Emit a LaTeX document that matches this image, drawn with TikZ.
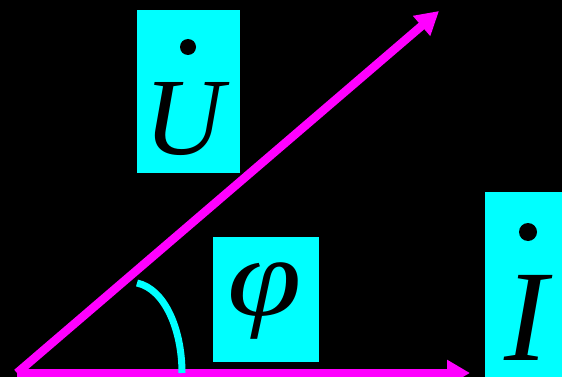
\documentclass[tikz,border=0pt]{standalone}
\usepackage{fontspec}
\setmainfont{Liberation Serif}
\usetikzlibrary{arrows.meta}
\definecolor{vecpink}{RGB}{255,0,255}
\definecolor{boxcyan}{RGB}{0,255,255}

\begin{document}
\begin{tikzpicture}[x=1pt, y=-1pt,
    vec/.style={draw=vecpink, line width=8.5pt, -{Triangle[length=23pt, width=25pt]}},
    box/.style={fill=boxcyan, inner sep=0pt, anchor=north west},
    big/.style={inner sep=0pt, font=\fontsize{#1}{#1}\selectfont\itshape}]
\fill[black] (0,0) rectangle (562,377);
\useasboundingbox (0,0) rectangle (562,377);
\coordinate (O) at (17,373);
\coordinate (Utip) at (439,11);
\coordinate (Itip) at (470,373);
\coordinate (arcA) at (137,283);
\coordinate (arcB) at (182,373);
% vectors
\draw[vec] (O) -- (Utip);
\draw[vec] (O) -- (Itip);
% angle
\draw[boxcyan, line width=7pt] (arcA) .. controls (165,289) and (182,330) .. (arcB);
% labels
\node[box, minimum width=103pt, minimum height=163pt] (ubox) at (137,10) {};
\node[big=110] (ulet) at (184,119) {U};
\fill (188,47) circle (8pt);
\node[box, minimum width=106pt, minimum height=125pt] (phibox) at (213,237) {};
\node[big=112, xscale=1.2] (philet) at (265,301) {φ};
\node[box, minimum width=77pt, minimum height=200pt] (ibox) at (485,192) {};
\node[big=130] (ilet) at (526,318) {I};
\fill (528,232) circle (9pt);
\end{tikzpicture}
\end{document}
